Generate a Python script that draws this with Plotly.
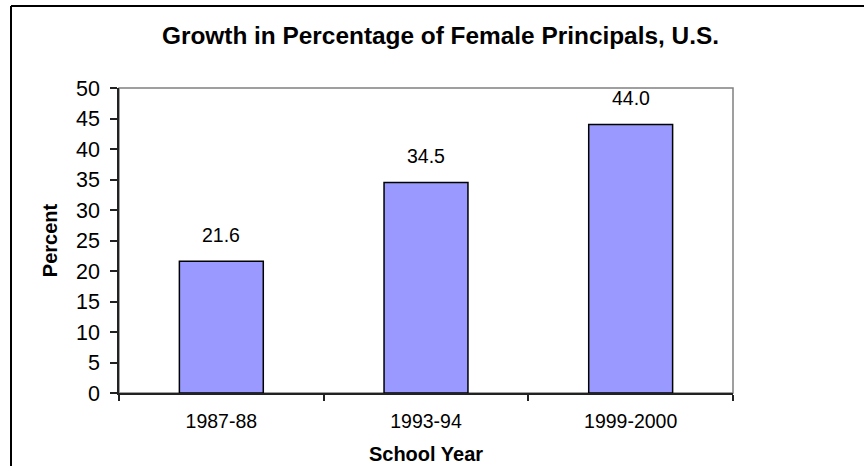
import plotly.graph_objects as go

categories = ["1987-88", "1993-94", "1999-2000"]
values = [21.6, 34.5, 44.0]
value_labels = ["21.6", "34.5", "44.0"]
y_ticks = [0, 5, 10, 15, 20, 25, 30, 35, 40, 45, 50]

# the capture squeezes 474 px of page height into the 466 px picture,
# so vertical layout positions are laid out on a 474 px tall page
REF_H = 466
W, H = 864, 474
K = H / REF_H


def vy(y):
    return y * K


L, Rx = 119, 733
T, By = vy(87), vy(392)
R, B = W - Rx, H - By
pw, ph = Rx - L, By - T

FONT = "Liberation Sans, Arial, sans-serif"


def px(x):
    return (x - L) / pw


def py(y):
    return (By - vy(y)) / ph


fig = go.Figure()
fig.add_trace(go.Bar(
    x=categories, y=values,
    marker=dict(color="#9999FF", line=dict(color="#000000", width=1.5)),
    hoverinfo="skip",
))

for c, v, t in zip(categories, values, value_labels):
    fig.add_annotation(x=c, y=v, text=t, showarrow=False, yanchor="middle",
                       yshift=vy(26), font=dict(family=FONT, size=19.5, color="#000000"))

# outer chart border: only left and top edges are visible in the frame
fig.add_shape(type="line", xref="paper", yref="paper",
              x0=px(11), x1=px(11), y0=py(REF_H), y1=py(5),
              line=dict(color="#000000", width=2), layer="below")
fig.add_shape(type="line", xref="paper", yref="paper",
              x0=px(11), x1=px(W), y0=py(5), y1=py(5),
              line=dict(color="#000000", width=2), layer="below")
# plot area border
fig.add_shape(type="rect", xref="paper", yref="paper", x0=0, x1=1, y0=0, y1=1,
              line=dict(color="#808080", width=1.5), layer="below")

fig.update_layout(
    width=W, height=H,
    margin=dict(l=L, r=R, t=T, b=B, pad=0),
    paper_bgcolor="white", plot_bgcolor="white",
    bargap=0.59, showlegend=False,
    font=dict(family=FONT, color="#000000"),
    title=dict(text="Growth in Percentage of Female Principals, U.S.",
               font=dict(family=FONT, size=24.4, weight="bold", color="#000000"),
               x=px(440.5), xref="paper", xanchor="center",
               y=1 - vy(34.5) / H, yref="container", yanchor="middle"),
    xaxis=dict(
        type="category", showgrid=False, showline=True, linecolor="#222222", linewidth=1.5,
        ticks="outside", ticklen=6, tickcolor="#222222", tickwidth=1.5, tickson="boundaries",
        tickfont=dict(family=FONT, size=19.5, color="#000000"), ticklabelstandoff=10,
        title=dict(text="School Year", font=dict(family=FONT, size=20, weight="bold", color="#000000"),
                   standoff=16),
        range=[-0.5, 2.5], fixedrange=True,
    ),
    yaxis=dict(
        range=[0, 50], tickvals=y_ticks, ticktext=[str(v) for v in y_ticks],
        showgrid=False, zeroline=False, showline=True, linecolor="#222222", linewidth=1.5,
        ticks="outside", ticklen=7, tickcolor="#222222", tickwidth=1.5,
        tickfont=dict(family=FONT, size=21.5, color="#000000"), ticklabelstandoff=6,
        title=dict(text="Percent", font=dict(family=FONT, size=20, weight="bold", color="#000000"),
                   standoff=13),
        fixedrange=True,
    ),
)

post = (
    "var s=document.createElement('style');"
    "s.textContent='html,body{margin:0!important;padding:0!important;overflow:hidden!important;}';"
    "document.head.appendChild(s);"
)
fig.write_html("out.html", config={"displayModeBar": False}, post_script=post)
